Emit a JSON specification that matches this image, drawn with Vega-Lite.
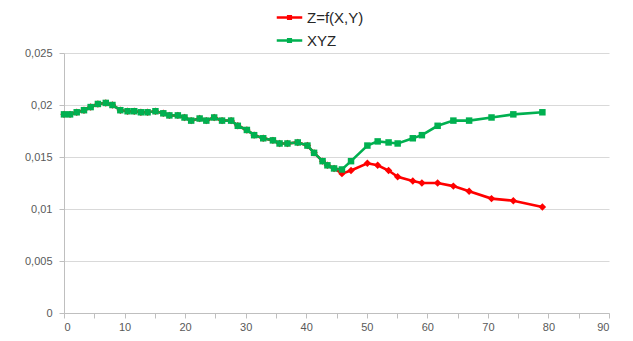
{
  "$schema": "https://vega.github.io/schema/vega-lite/v6.json",
  "width": 545,
  "height": 260,
  "autosize": {"type": "none"},
  "padding": {"left": 64, "top": 53, "right": 24, "bottom": 28},
  "background": "white",
  "config": {
    "view": {"stroke": null},
    "font": "Liberation Sans"
  },
  "data": {
    "values": [
      {"x": 0, "y": 0.0191, "s": "Z=f(X,Y)"},
      {"x": 1.0, "y": 0.0191, "s": "Z=f(X,Y)"},
      {"x": 2.1, "y": 0.0193, "s": "Z=f(X,Y)"},
      {"x": 3.3, "y": 0.0195, "s": "Z=f(X,Y)"},
      {"x": 4.4, "y": 0.0198, "s": "Z=f(X,Y)"},
      {"x": 5.6, "y": 0.0201, "s": "Z=f(X,Y)"},
      {"x": 6.9, "y": 0.0202, "s": "Z=f(X,Y)"},
      {"x": 8.0, "y": 0.0200, "s": "Z=f(X,Y)"},
      {"x": 9.3, "y": 0.0195, "s": "Z=f(X,Y)"},
      {"x": 10.5, "y": 0.0194, "s": "Z=f(X,Y)"},
      {"x": 11.6, "y": 0.0194, "s": "Z=f(X,Y)"},
      {"x": 12.7, "y": 0.0193, "s": "Z=f(X,Y)"},
      {"x": 13.8, "y": 0.0193, "s": "Z=f(X,Y)"},
      {"x": 15.1, "y": 0.0194, "s": "Z=f(X,Y)"},
      {"x": 16.4, "y": 0.0192, "s": "Z=f(X,Y)"},
      {"x": 17.4, "y": 0.0190, "s": "Z=f(X,Y)"},
      {"x": 18.8, "y": 0.0190, "s": "Z=f(X,Y)"},
      {"x": 19.9, "y": 0.0188, "s": "Z=f(X,Y)"},
      {"x": 21.0, "y": 0.0185, "s": "Z=f(X,Y)"},
      {"x": 22.4, "y": 0.0187, "s": "Z=f(X,Y)"},
      {"x": 23.5, "y": 0.0185, "s": "Z=f(X,Y)"},
      {"x": 24.8, "y": 0.0188, "s": "Z=f(X,Y)"},
      {"x": 26.1, "y": 0.0185, "s": "Z=f(X,Y)"},
      {"x": 27.6, "y": 0.0185, "s": "Z=f(X,Y)"},
      {"x": 28.7, "y": 0.0180, "s": "Z=f(X,Y)"},
      {"x": 30.2, "y": 0.0176, "s": "Z=f(X,Y)"},
      {"x": 31.4, "y": 0.0171, "s": "Z=f(X,Y)"},
      {"x": 32.9, "y": 0.0168, "s": "Z=f(X,Y)"},
      {"x": 34.5, "y": 0.0166, "s": "Z=f(X,Y)"},
      {"x": 35.6, "y": 0.0163, "s": "Z=f(X,Y)"},
      {"x": 36.9, "y": 0.0163, "s": "Z=f(X,Y)"},
      {"x": 38.6, "y": 0.0164, "s": "Z=f(X,Y)"},
      {"x": 40.2, "y": 0.0161, "s": "Z=f(X,Y)"},
      {"x": 41.3, "y": 0.0154, "s": "Z=f(X,Y)"},
      {"x": 42.7, "y": 0.0146, "s": "Z=f(X,Y)"},
      {"x": 43.5, "y": 0.0142, "s": "Z=f(X,Y)"},
      {"x": 44.6, "y": 0.0139, "s": "Z=f(X,Y)"},
      {"x": 45.9, "y": 0.0134, "s": "Z=f(X,Y)"},
      {"x": 47.4, "y": 0.0137, "s": "Z=f(X,Y)"},
      {"x": 50.1, "y": 0.0144, "s": "Z=f(X,Y)"},
      {"x": 51.8, "y": 0.0142, "s": "Z=f(X,Y)"},
      {"x": 53.6, "y": 0.0137, "s": "Z=f(X,Y)"},
      {"x": 55.1, "y": 0.0131, "s": "Z=f(X,Y)"},
      {"x": 57.6, "y": 0.0127, "s": "Z=f(X,Y)"},
      {"x": 59.1, "y": 0.0125, "s": "Z=f(X,Y)"},
      {"x": 61.7, "y": 0.0125, "s": "Z=f(X,Y)"},
      {"x": 64.3, "y": 0.0122, "s": "Z=f(X,Y)"},
      {"x": 66.9, "y": 0.0117, "s": "Z=f(X,Y)"},
      {"x": 70.6, "y": 0.0110, "s": "Z=f(X,Y)"},
      {"x": 74.2, "y": 0.0108, "s": "Z=f(X,Y)"},
      {"x": 79.0, "y": 0.0102, "s": "Z=f(X,Y)"},
      {"x": 0, "y": 0.0191, "s": "XYZ"},
      {"x": 1.0, "y": 0.0191, "s": "XYZ"},
      {"x": 2.1, "y": 0.0193, "s": "XYZ"},
      {"x": 3.3, "y": 0.0195, "s": "XYZ"},
      {"x": 4.4, "y": 0.0198, "s": "XYZ"},
      {"x": 5.6, "y": 0.0201, "s": "XYZ"},
      {"x": 6.9, "y": 0.0202, "s": "XYZ"},
      {"x": 8.0, "y": 0.0200, "s": "XYZ"},
      {"x": 9.3, "y": 0.0195, "s": "XYZ"},
      {"x": 10.5, "y": 0.0194, "s": "XYZ"},
      {"x": 11.6, "y": 0.0194, "s": "XYZ"},
      {"x": 12.7, "y": 0.0193, "s": "XYZ"},
      {"x": 13.8, "y": 0.0193, "s": "XYZ"},
      {"x": 15.1, "y": 0.0194, "s": "XYZ"},
      {"x": 16.4, "y": 0.0192, "s": "XYZ"},
      {"x": 17.4, "y": 0.0190, "s": "XYZ"},
      {"x": 18.8, "y": 0.0190, "s": "XYZ"},
      {"x": 19.9, "y": 0.0188, "s": "XYZ"},
      {"x": 21.0, "y": 0.0185, "s": "XYZ"},
      {"x": 22.4, "y": 0.0187, "s": "XYZ"},
      {"x": 23.5, "y": 0.0185, "s": "XYZ"},
      {"x": 24.8, "y": 0.0188, "s": "XYZ"},
      {"x": 26.1, "y": 0.0185, "s": "XYZ"},
      {"x": 27.6, "y": 0.0185, "s": "XYZ"},
      {"x": 28.7, "y": 0.0180, "s": "XYZ"},
      {"x": 30.2, "y": 0.0176, "s": "XYZ"},
      {"x": 31.4, "y": 0.0171, "s": "XYZ"},
      {"x": 32.9, "y": 0.0168, "s": "XYZ"},
      {"x": 34.5, "y": 0.0166, "s": "XYZ"},
      {"x": 35.6, "y": 0.0163, "s": "XYZ"},
      {"x": 36.9, "y": 0.0163, "s": "XYZ"},
      {"x": 38.6, "y": 0.0164, "s": "XYZ"},
      {"x": 40.2, "y": 0.0161, "s": "XYZ"},
      {"x": 41.3, "y": 0.0154, "s": "XYZ"},
      {"x": 42.7, "y": 0.0146, "s": "XYZ"},
      {"x": 43.5, "y": 0.0142, "s": "XYZ"},
      {"x": 44.6, "y": 0.0139, "s": "XYZ"},
      {"x": 45.9, "y": 0.0138, "s": "XYZ"},
      {"x": 47.4, "y": 0.0146, "s": "XYZ"},
      {"x": 50.1, "y": 0.0161, "s": "XYZ"},
      {"x": 51.8, "y": 0.0165, "s": "XYZ"},
      {"x": 53.6, "y": 0.0164, "s": "XYZ"},
      {"x": 55.1, "y": 0.0163, "s": "XYZ"},
      {"x": 57.6, "y": 0.0168, "s": "XYZ"},
      {"x": 59.1, "y": 0.0171, "s": "XYZ"},
      {"x": 61.7, "y": 0.0180, "s": "XYZ"},
      {"x": 64.3, "y": 0.0185, "s": "XYZ"},
      {"x": 66.9, "y": 0.0185, "s": "XYZ"},
      {"x": 70.6, "y": 0.0188, "s": "XYZ"},
      {"x": 74.2, "y": 0.0191, "s": "XYZ"},
      {"x": 79.0, "y": 0.0193, "s": "XYZ"}
    ]
  },
  "encoding": {
    "x": {
      "field": "x", "type": "quantitative",
      "scale": {"domain": [0, 90], "nice": false, "zero": true},
      "axis": {
        "title": null,
        "values": [0, 5, 10, 15, 20, 25, 30, 35, 40, 45, 50, 55, 60, 65, 70, 75, 80, 85, 90],
        "labelExpr": "datum.value % 10 === 0 ? datum.label : ''",
        "grid": false,
        "domainColor": "#bfbfbf",
        "tickColor": "#bfbfbf",
        "tickSize": 5,
        "labelPadding": 3,
        "labelColor": "#595959",
        "labelFontSize": 11,
        "labelFont": "Liberation Sans",
        "labelOverlap": false
      }
    },
    "y": {
      "field": "y", "type": "quantitative",
      "scale": {"domain": [0, 0.025], "nice": false},
      "axis": {
        "title": null,
        "values": [0, 0.005, 0.01, 0.015, 0.02, 0.025],
        "format": "~g",
        "labelExpr": "replace(datum.label, '.', ',')",
        "grid": true,
        "gridColor": "#d9d9d9",
        "gridWidth": 1,
        "domainColor": "#bfbfbf",
        "tickColor": "#bfbfbf",
        "tickSize": 5,
        "labelPadding": 7,
        "labelColor": "#595959",
        "labelFontSize": 11,
        "labelFont": "Liberation Sans"
      }
    }
  },
  "layer": [
    {
      "mark": {"type": "line", "strokeWidth": 2.6},
      "encoding": {
        "color": {
          "field": "s", "type": "nominal",
          "scale": {"domain": ["Z=f(X,Y)", "XYZ"], "range": ["#ff0000", "#00b050"]},
          "legend": {
            "title": null,
            "orient": "none",
            "legendX": 211,
            "legendY": -50,
            "direction": "vertical",
            "symbolType": "M-1,0L1,0M-0.1,-0.1L0.1,-0.1L0.1,0.1L-0.1,0.1Z",
            "symbolSize": 650,
            "symbolStrokeWidth": 2.6,
            "labelFontSize": 15,
            "labelFont": "Liberation Sans",
            "labelColor": "#262626",
            "labelOffset": 3,
            "rowPadding": 0
          }
        }
      }
    },
    {
      "transform": [{"filter": "datum.s === 'Z=f(X,Y)'"}],
      "mark": {"type": "point", "filled": true, "opacity": 1, "size": 55, "shape": "diamond", "color": "#ff0000"}
    },
    {
      "transform": [{"filter": "datum.s === 'XYZ'"}],
      "mark": {"type": "point", "filled": true, "opacity": 1, "size": 42, "shape": "square", "color": "#00b050"}
    }
  ]
}
